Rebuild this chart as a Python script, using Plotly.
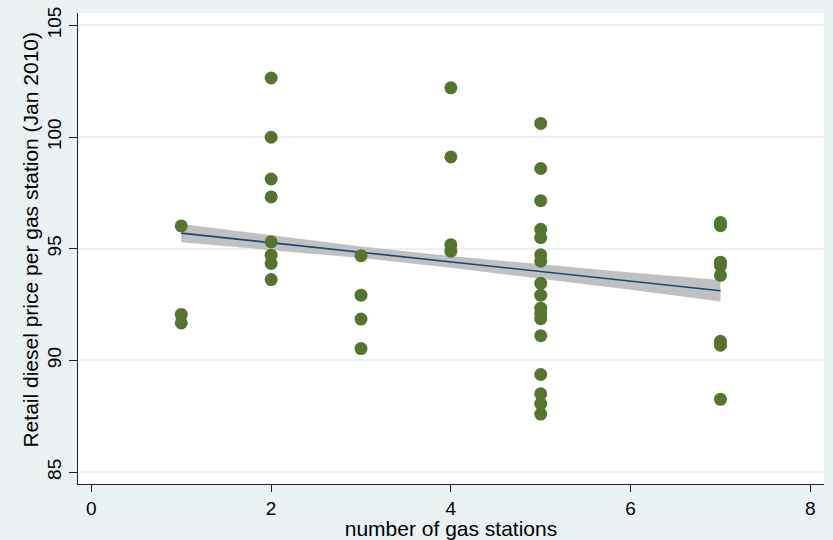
import plotly.graph_objects as go

# Retail diesel prices (Jan 2010) by number of gas stations in the market
stations_1 = [96.02, 92.06, 91.68]
stations_2 = [102.64, 99.99, 98.12, 97.32, 95.31, 94.71, 94.34, 93.62]
stations_3 = [94.69, 92.92, 91.85, 90.53]
stations_4 = [102.20, 99.11, 95.18, 94.89]
stations_5 = [100.61, 98.59, 97.15, 95.87, 95.50, 94.73, 94.44, 93.45, 92.92,
              92.34, 92.10, 91.87, 91.11, 89.37, 88.51, 88.07, 87.60]
stations_7 = [96.17, 96.03, 94.40, 94.24, 93.81, 90.86, 90.68, 88.26]

groups = [(1, stations_1), (2, stations_2), (3, stations_3),
          (4, stations_4), (5, stations_5), (7, stations_7)]

# Linear fit with 95% confidence band
fit_x = [1, 2, 3, 4, 5, 6, 7]
fit_y = [95.70, 95.27, 94.84, 94.41, 93.98, 93.55, 93.12]
ci_upper = [96.11, 95.59, 95.10, 94.67, 94.29, 93.94, 93.60]
ci_lower = [95.29, 94.95, 94.58, 94.15, 93.67, 93.16, 92.64]

x_ticks = [0, 2, 4, 6, 8]
y_ticks = [85, 90, 95, 100, 105]

xs, ys = [], []
for n, vals in groups:
    xs += [n] * len(vals)
    ys += vals

BG = "#eaf2f3"
FONT = "Liberation Sans, Arial, sans-serif"

fig = go.Figure()
fig.add_trace(go.Scatter(
    x=fit_x + fit_x[::-1], y=ci_upper + ci_lower[::-1],
    fill="toself", fillcolor="#c0c0c0", line=dict(width=0),
    mode="lines", hoverinfo="skip", showlegend=False))
fig.add_trace(go.Scatter(
    x=fit_x, y=fit_y, mode="lines",
    line=dict(color="#1a476f", width=1.6), showlegend=False))
fig.add_trace(go.Scatter(
    x=xs, y=ys, mode="markers",
    marker=dict(color="#55752f", size=13, line=dict(width=0)),
    showlegend=False))

fig.update_layout(
    width=833, height=540,
    margin=dict(l=78, r=9, t=7, b=56),
    paper_bgcolor=BG, plot_bgcolor="white",
    font=dict(family=FONT, size=18, color="#000000"),
    xaxis=dict(
        range=[-0.149, 8.152], tickvals=x_ticks, ticktext=[str(v) for v in x_ticks],
        showgrid=False, zeroline=False,
        showline=True, linecolor="#222222", linewidth=1,
        ticks="outside", ticklen=7, tickcolor="#222222", tickwidth=1,
        tickfont=dict(size=19),
        title=dict(text="number of gas stations", font=dict(size=21), standoff=0),
    ),
    yaxis=dict(
        range=[84.47, 105.55], tickvals=y_ticks, ticktext=[str(v) for v in y_ticks],
        tickangle=-90,
        showgrid=True, gridcolor=BG, gridwidth=1.5, zeroline=False,
        showline=True, linecolor="#222222", linewidth=1,
        ticks="outside", ticklen=8, tickcolor="#222222", tickwidth=1,
        tickfont=dict(size=19),
    ),
    annotations=[dict(
        text="Retail diesel price per gas station (Jan 2010)",
        textangle=-90, font=dict(size=21),
        xref="paper", yref="paper", x=-0.063, y=0.519,
        xanchor="center", yanchor="middle", showarrow=False,
    )],
)

fig.write_html("out.html")
